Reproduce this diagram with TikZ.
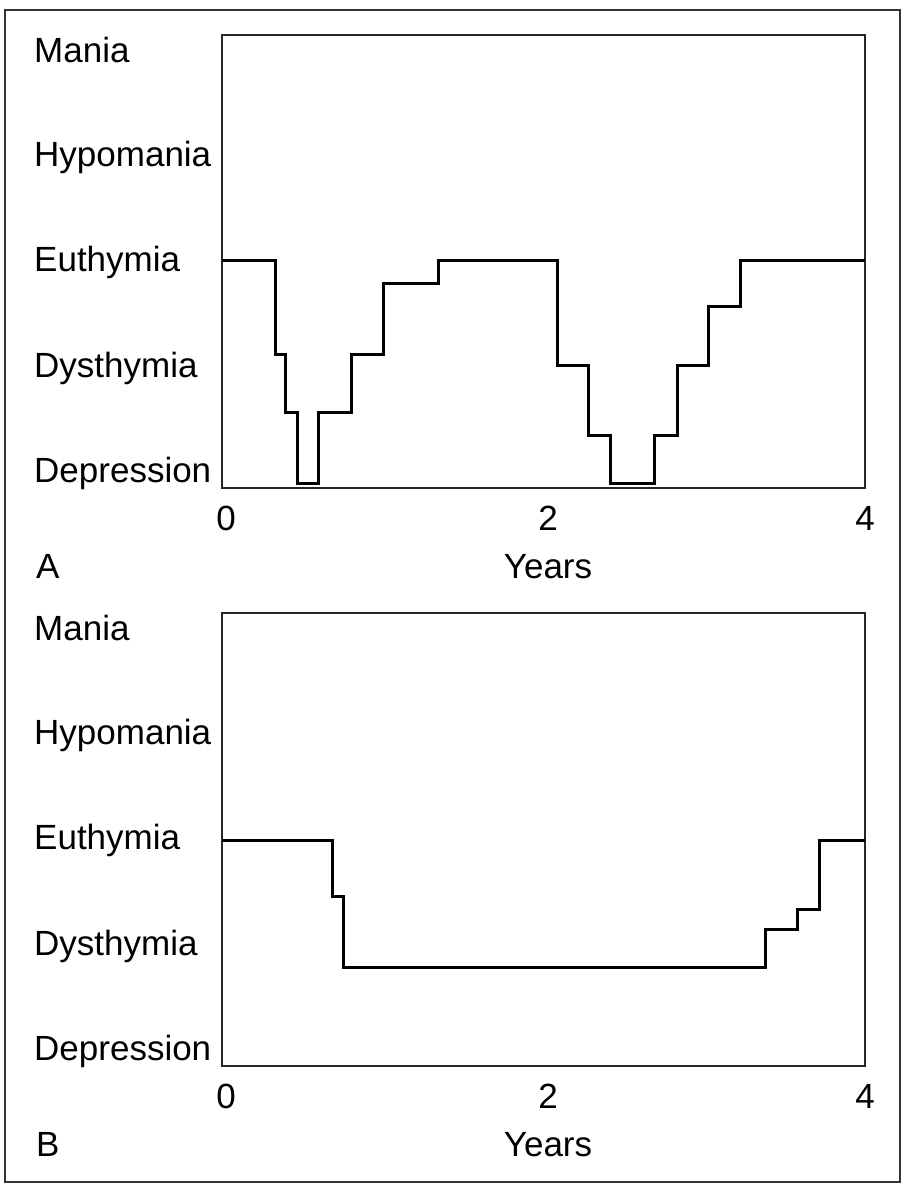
\documentclass[tikz,border=0pt]{standalone}
\usepackage{fontspec}
\setmainfont{Liberation Sans}

\begin{document}
\begin{tikzpicture}[x=1pt,y=-1pt,line join=miter]
    \tikzstyle{lab}=[anchor=base west,inner sep=0pt,font=\fontsize{35}{41}\selectfont]
    \tikzstyle{tick}=[anchor=base,inner sep=0pt,font=\fontsize{35}{41}\selectfont]
    \tikzstyle{course}=[line width=3pt,black]
    \tikzstyle{frame}=[line width=1.6pt,black!85]
    \useasboundingbox (0,0) rectangle (905,1184);
    \draw[line width=2pt,black!80] (5,10) rectangle (900,1182);

    % shared parts of both panels
    \foreach \pan/\off in {A/0, B/578} {
        \draw[frame] (222,35+\off) rectangle (865,488+\off);
        \foreach \name/\y in {Mania/62, Hypomania/166, Euthymia/271, Dysthymia/377, Depression/482}
            \node[lab] (\pan-\name) at (34,\y+\off) {\name};
        \foreach \yr/\x in {0/226, 2/548, 4/865}
            \node[tick] (\pan-T\yr) at (\x,530+\off) {\yr};
        \node[tick] (\pan-years) at (548,578+\off) {Years};
        \node[lab] (\pan-letter) at (36,578+\off) {\pan};
    }

    % panel A
    \draw[course] (222,260) -| (275,354) -| (285,412) -| (297,483) -| (318,412)
        -| (351,354) -| (383,283) -| (438,260) -| (557,365) -| (588,435)
        -| (610,483) -| (654,435) -| (677,365) -| (708,306) -| (740,260) -- (865,260);

    % panel B
    \draw[course] (222,840) -| (332,896) -| (343,967) -| (765,929) -| (797,909)
        -| (819,840) -- (865,840);
\end{tikzpicture}
\end{document}
